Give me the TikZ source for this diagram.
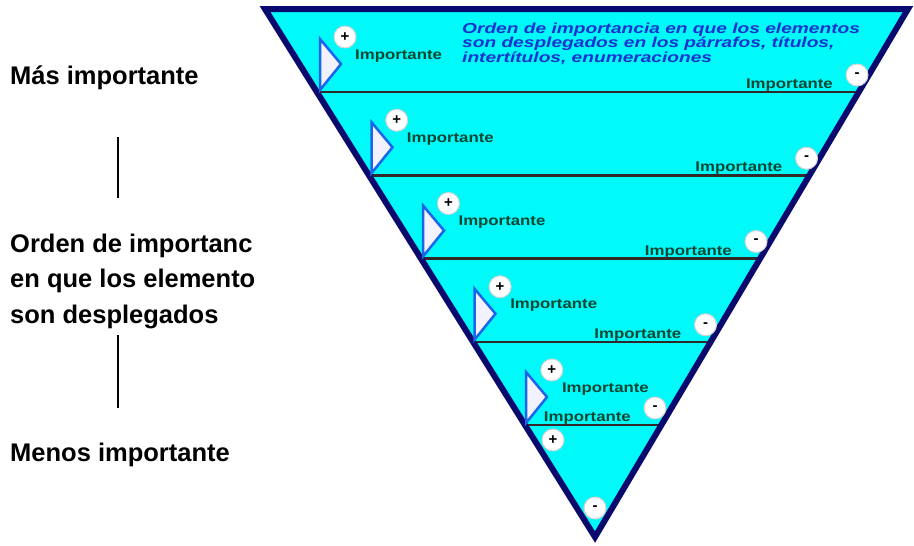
\documentclass[tikz,border=0pt]{standalone}
\usepackage{fontspec}
\setmainfont{Liberation Sans}
\newfontfamily\impfont[FakeStretch=1.2]{Liberation Sans}
\newfontfamily\bluefont[FakeStretch=1.32]{Liberation Sans}

\definecolor{navyline}{RGB}{10,10,110}
\definecolor{cyanfill}{RGB}{0,250,250}
\definecolor{pointerblue}{RGB}{30,100,235}
\definecolor{impgreen}{RGB}{10,70,50}
\definecolor{titleblue}{RGB}{25,50,210}
\definecolor{divider}{RGB}{50,40,40}

\begin{document}
\begin{tikzpicture}[x=1pt,y=-1pt,
  sign/.style={circle,fill=white,draw=gray!35,line width=1pt,minimum size=22pt,inner sep=0pt,font=\bfseries\fontsize{15}{15}\selectfont},
  imp/.style={inner sep=0pt,text=impgreen,font=\impfont\bfseries\fontsize{14}{14}\selectfont},
  pointer/.style={draw=pointerblue,fill=white!95!blue,line width=2.5pt,line join=miter},
  side/.style={inner sep=0pt,align=left,font=\bfseries\fontsize{25.5}{35.5}\selectfont}]
\useasboundingbox (0,0) rectangle (914,546);

% left column
\node[side,anchor=base west] (mas) at (10,84) {Más importante};
\node[side,anchor=base west] (orden) at (10,323) {Orden de importanc\\en que los elemento\\son desplegados};
\node[side,anchor=base west] (menos) at (10,461) {Menos importante};
\coordinate (v1a) at (118,137);
\coordinate (v1b) at (118,198);
\coordinate (v2a) at (118,335);
\coordinate (v2b) at (118,408);
\draw[line width=1.5pt] (v1a) -- (v1b);
\draw[line width=1.5pt] (v2a) -- (v2b);

% pyramid
\coordinate (tl) at (265,9);
\coordinate (tr) at (908,9);
\coordinate (ap) at (595,537);
\begin{scope}
\clip (tl) -- (tr) -- (ap) -- cycle;
\fill[cyanfill] (tl) -- (tr) -- (ap) -- cycle;
\foreach \i [evaluate=\i as \d using 92+83.25*\i] in {0,...,4}
  \draw[divider,line width=2.5pt] (200,\d) -- (914,\d);
\end{scope}
\draw[navyline,line width=6pt,line join=miter] (tl) -- (tr) -- (ap) -- cycle;

\node[anchor=base west,inner sep=0pt,align=left,text=titleblue,font=\bluefont\bfseries\itshape\fontsize{14.5}{13.3}\selectfont] (titulo) at (462,62.6)
  {Orden de importancia en que los elementos\\son desplegados en los párrafos, títulos,\\intertítulos, enumeraciones};

\foreach \i [evaluate=\i as \d using 92+83.25*\i] in {0,...,4} {
  \draw[pointer] (320+51.5*\i,\d-53) -- ++(0,51) -- ++(21,-26) -- cycle;
  \node[sign] (p\i) at (345+51.7*\i,\d-55) {+};
  \node[imp,anchor=base west] (li\i) at ([shift={(10,22)}]p\i.center) {Importante};
  \node[sign] (m\i) at (857-50.5*\i,\d-17) {-};
  \node[imp,anchor=base east] (ri\i) at ([shift={(-24,13.5)}]m\i.center) {Importante};
}
\node[sign] (pb) at (553,440) {+};
\node[sign] (mb) at (595,508) {-};
\end{tikzpicture}
\end{document}
